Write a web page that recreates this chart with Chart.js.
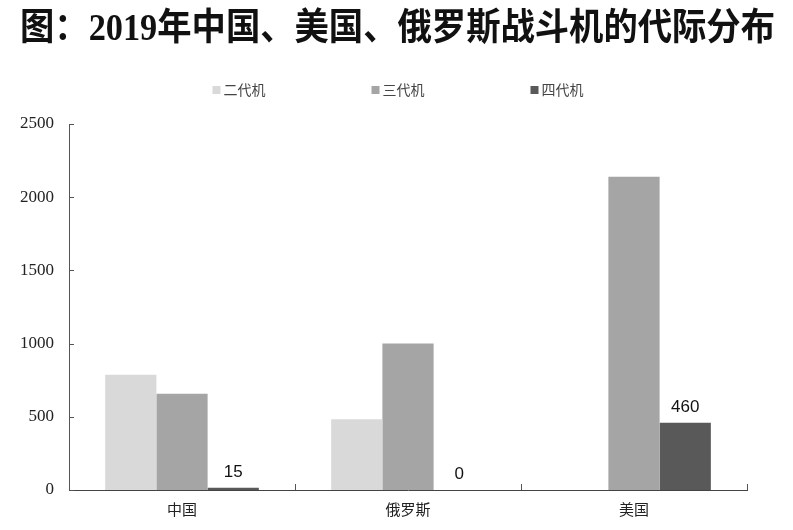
<!DOCTYPE html>
<html>
<head>
<meta charset="utf-8">
<script src="https://cdn.jsdelivr.net/npm/chart.js@4.4.1/dist/chart.umd.min.js"></script>
<style>
  html, body { margin: 0; background: #fff; }
  #wrap { width: 793px; height: 530px; }
</style>
</head>
<body>
<div id="wrap"><canvas id="chart"></canvas></div>
<script>
const categories = ['中国', '俄罗斯', '美国'];
const seriesNames = ['二代机', '三代机', '四代机'];
const gen2 = [787, 484, 0];
const gen3 = [658, 1000, 2139];
const gen4 = [15, 0, 460];
const yTicks = [0, 500, 1000, 1500, 2000, 2500];
const colors = ['#d9d9d9', '#a5a5a5', '#595959'];
const titleText = '图：2019年中国、美国、俄罗斯战斗机的代际分布';

// title drawn on the full page width (the plot itself is off-centre),
// squeezed a little like the narrow bold Song face of the original
const pageTitle = {
  id: 'pageTitle',
  afterDraw(chart) {
    const ctx = chart.ctx;
    ctx.save();
    ctx.font = 'bold 37px "Liberation Serif", "Noto Sans CJK SC"';
    ctx.fillStyle = '#111';
    ctx.textAlign = 'center';
    ctx.textBaseline = 'middle';
    ctx.fillText(titleText, chart.width / 2 + 1, 30, 755);
    ctx.restore();
  }
};

// legend drawn by hand: items are spread far apart in the original
const topLegend = {
  id: 'topLegend',
  afterDraw(chart) {
    const ctx = chart.ctx;
    const step = 159;
    const cx = chart.width / 2 + 6;
    const start = cx - step - 31;
    ctx.save();
    ctx.font = '14px "Noto Sans CJK SC"';
    ctx.textBaseline = 'middle';
    chart.data.datasets.forEach((ds, i) => {
      const x = start + i * step;
      ctx.fillStyle = ds.backgroundColor;
      ctx.fillRect(x, 86, 8, 8);
      ctx.fillStyle = '#444';
      ctx.fillText(ds.label, x + 11, 90);
    });
    ctx.restore();
  }
};

// inward tick marks on both axes
const innerTicks = {
  id: 'innerTicks',
  afterDraw(chart) {
    const { ctx, chartArea, scales: { x, y } } = chart;
    ctx.save();
    ctx.strokeStyle = '#555';
    ctx.lineWidth = 1;
    ctx.beginPath();
    yTicks.forEach(v => {
      const py = Math.round(y.getPixelForValue(v)) + 0.5;
      ctx.moveTo(chartArea.left, py);
      ctx.lineTo(chartArea.left + 5, py);
    });
    const n = categories.length;
    for (let i = 1; i <= n; i++) {
      const px = Math.round(x.left + x.width * i / n) + 0.5;
      ctx.moveTo(px, chartArea.bottom);
      ctx.lineTo(px, chartArea.bottom - 6);
    }
    ctx.stroke();
    ctx.restore();
  }
};

// value labels on the 四代机 bars
const valueLabels = {
  id: 'valueLabels',
  afterDatasetsDraw(chart) {
    const ctx = chart.ctx;
    const meta = chart.getDatasetMeta(2);
    ctx.save();
    ctx.font = '17px "Liberation Sans"';
    ctx.fillStyle = '#111';
    ctx.textAlign = 'center';
    ctx.textBaseline = 'bottom';
    meta.data.forEach((bar, i) => {
      ctx.fillText(String(gen4[i]), bar.x, bar.y - 7);
    });
    ctx.restore();
  }
};

const ctx = document.getElementById('chart').getContext('2d');
new Chart(ctx, {
  type: 'bar',
  data: {
    labels: categories,
    datasets: [
      { label: seriesNames[0], data: gen2, backgroundColor: colors[0] },
      { label: seriesNames[1], data: gen3, backgroundColor: colors[1] },
      { label: seriesNames[2], data: gen4, backgroundColor: colors[2] }
    ]
  },
  options: {
    responsive: true,
    maintainAspectRatio: false,
    animation: false,
    layout: { padding: { top: 124, left: 5, right: 46, bottom: 2 } },
    datasets: {
      bar: { categoryPercentage: 0.68, barPercentage: 1.0 }
    },
    scales: {
      x: {
        grid: { display: false, drawTicks: false },
        border: { color: '#444', width: 1 },
        ticks: {
          color: '#222',
          padding: 10,
          font: { family: '"Noto Sans CJK SC"', size: 15 }
        }
      },
      y: {
        min: 0,
        max: 2500,
        grid: { display: false, drawTicks: false },
        border: { color: '#555', width: 1 },
        afterBuildTicks(scale) {
          scale.ticks = yTicks.map(v => ({ value: v }));
        },
        ticks: {
          color: '#222',
          padding: 15,
          callback: v => String(v),
          font: { family: '"Liberation Serif"', size: 17 }
        }
      }
    },
    plugins: {
      legend: { display: false },
      tooltip: { enabled: false },
      title: { display: false }
    }
  },
  plugins: [pageTitle, topLegend, innerTicks, valueLabels]
});
</script>
</body>
</html>
